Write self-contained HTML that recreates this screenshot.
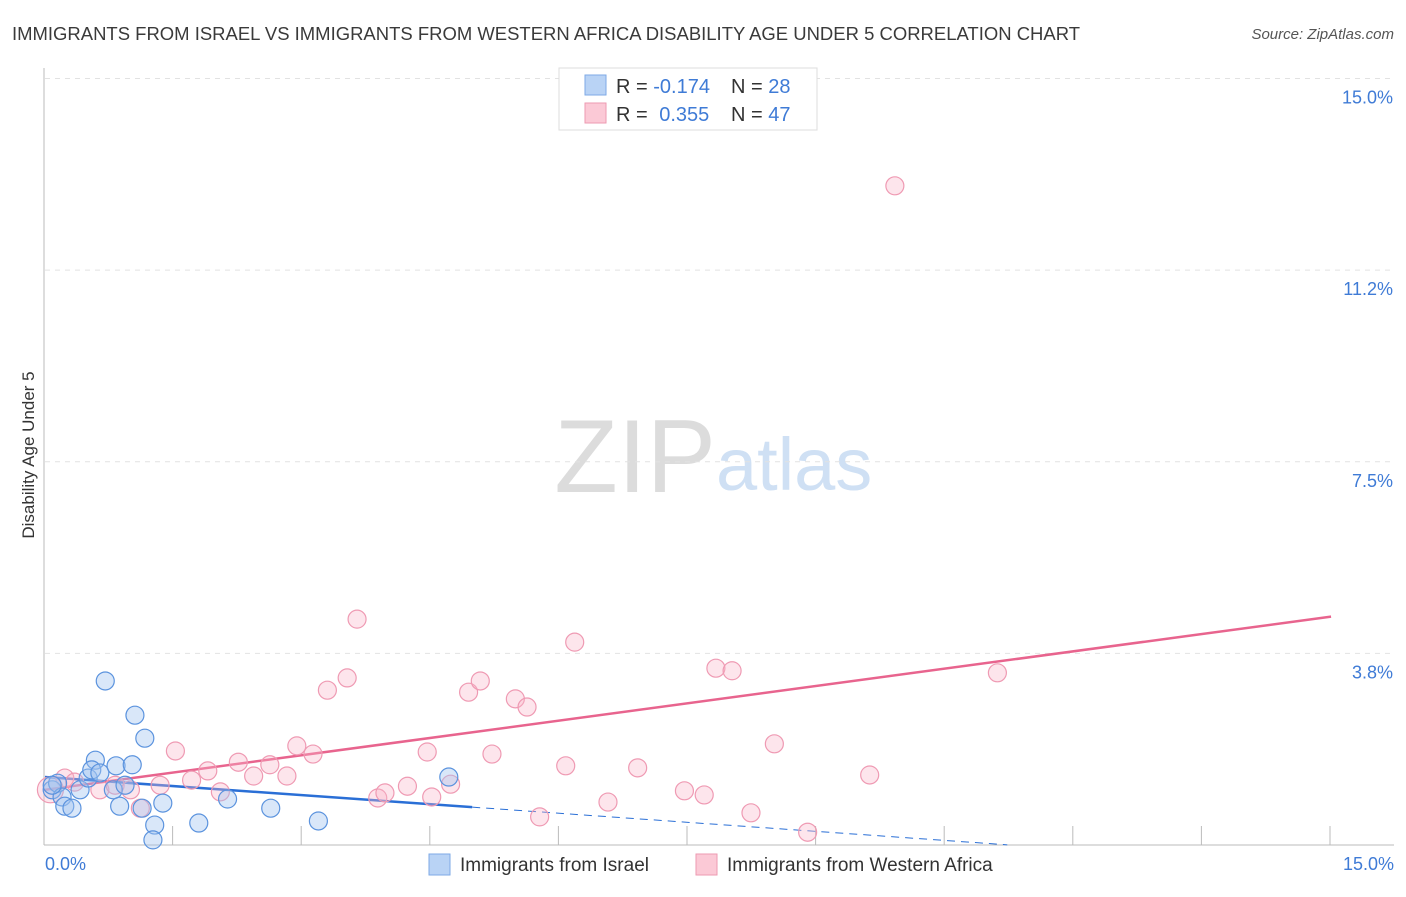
<!DOCTYPE html>
<html><head><meta charset="utf-8"><style>
body{margin:0;background:#fff;font-family:"Liberation Sans",sans-serif;}
svg text{font-family:"Liberation Sans",sans-serif;}
</style></head><body>
<svg id="chart" width="1406" height="892" xmlns="http://www.w3.org/2000/svg">
<text x="12" y="40" font-size="18" fill="#3a3a3a" textLength="1068" lengthAdjust="spacingAndGlyphs">IMMIGRANTS FROM ISRAEL VS IMMIGRANTS FROM WESTERN AFRICA DISABILITY AGE UNDER 5 CORRELATION CHART</text>
<text x="1394" y="39" font-size="15" font-style="italic" fill="#555" text-anchor="end">Source: ZipAtlas.com</text>
<text x="716" y="492" font-size="104" text-anchor="end" fill="#dcdcdc" font-family="Liberation Serif">ZIP</text>
<text x="716" y="490" font-size="74" fill="#cfe0f4">atlas</text>
<g id="grid"></g>
<g id="axes"></g>
<g id="trends"></g>
<g id="points"></g>
<text transform="translate(34,455) rotate(-90)" font-size="17" fill="#333" text-anchor="middle">Disability Age Under 5</text>
<text x="45" y="870" font-size="18" fill="#3f7bd6">0.0%</text>
<text x="1394" y="870" font-size="18" fill="#3f7bd6" text-anchor="end">15.0%</text>
<g>
<rect x="559" y="68" width="258" height="62" fill="#fff" stroke="#ddd"/>
<rect x="585" y="75" width="21" height="20" fill="#b9d3f5" stroke="#7ea9e6"/>
<rect x="585" y="103" width="21" height="20" fill="#fbc9d6" stroke="#ee9ab1"/>
<text x="616" y="93" font-size="20" fill="#333">R = <tspan fill="#3f7bd6">-0.174</tspan></text>
<text x="731" y="93" font-size="20" fill="#333">N = <tspan fill="#3f7bd6">28</tspan></text>
<text x="616" y="121" font-size="20" fill="#333">R = <tspan fill="#3f7bd6" dx="6">0.355</tspan></text>
<text x="731" y="121" font-size="20" fill="#333">N = <tspan fill="#3f7bd6">47</tspan></text>
</g>
<g>
<rect x="429" y="854" width="21" height="21" fill="#b9d3f5" stroke="#7ea9e6"/>
<text x="460" y="871" font-size="19" fill="#333">Immigrants from Israel</text></g>
<g>
<rect x="696" y="854" width="21" height="21" fill="#fbc9d6" stroke="#ee9ab1"/>
<text x="727" y="871" font-size="19" fill="#333">Immigrants from Western Africa</text></g>
</svg>
<script>
const yTicks=[3.75,7.5,11.25,15];
const yTickLabels=["3.8%","7.5%","11.2%","15.0%"];
const blueX=[0.08,0.14,0.19,0.22,0.30,0.39,0.48,0.56,0.52,0.61,0.67,0.76,0.79,0.83,0.89,0.97,1.00,1.08,1.11,1.22,1.20,1.31,1.71,2.03,2.51,3.04,4.49,0.08];
const blueY=[1.08,1.21,0.94,0.76,0.72,1.08,1.31,1.66,1.47,1.41,3.21,1.08,1.55,0.76,1.17,1.57,2.54,0.72,2.09,0.39,0.10,0.82,0.43,0.90,0.72,0.47,1.33,1.17];
const pinkX=[0.06,0.22,0.33,0.61,0.78,0.95,1.06,1.28,1.45,1.63,1.81,1.95,2.15,2.32,2.50,2.69,2.80,2.98,3.14,3.36,3.47,3.70,3.78,4.03,4.25,4.30,4.51,4.71,4.84,4.97,5.23,5.36,5.50,5.79,5.89,6.26,6.59,7.11,7.33,7.46,7.64,7.85,8.11,8.48,9.17,9.45,10.59];
const pinkY=[1.08,1.31,1.23,1.08,1.17,1.08,0.72,1.17,1.84,1.27,1.45,1.04,1.62,1.35,1.57,1.35,1.94,1.78,3.03,3.27,4.42,0.92,1.02,1.15,1.82,0.94,1.19,2.99,3.21,1.78,2.86,2.70,0.55,1.55,3.97,0.84,1.51,1.06,0.98,3.46,3.41,0.63,1.98,0.25,1.37,12.90,3.37];
const blueTrend=[1.33,-0.124];
const pinkTrend=[1.08,0.237];
const NS="http://www.w3.org/2000/svg";
const xs=v=>45+v*(1394-45)/15;
const ys=v=>845-v*(845-78.5)/15;
function mk(tag,attrs,parent){const e=document.createElementNS(NS,tag);for(const k in attrs)e.setAttribute(k,attrs[k]);document.getElementById(parent).appendChild(e);return e;}
yTicks.forEach((t,i)=>{
 const l=mk('line',{x1:45,x2:1394,y1:ys(t),y2:ys(t),stroke:'#e2e2e2','stroke-dasharray':'5,5'},'grid');
 
 
 const tx=mk('text',{x:1393,y:ys(t)+25,'font-size':18,fill:'#3f7bd6','text-anchor':'end'},'grid');
 tx.textContent=yTickLabels[i];
 
 
});
let ax=mk('line',{x1:44,x2:44,y1:68,y2:845,stroke:'#bbb'},'axes');


ax=mk('line',{x1:44,x2:1394,y1:845,y2:845,stroke:'#bbb'},'axes');


for(let i=1;i<=10;i++){const x=44+i*128.6;
 const t=mk('line',{x1:x,x2:x,y1:826,y2:845,stroke:'#bbb'},'axes');
 
 }
let tl=mk('line',{x1:xs(0),y1:ys(blueTrend[0]),x2:xs(4.75),y2:ys(blueTrend[0]+blueTrend[1]*4.75),stroke:'#2a6fd6','stroke-width':2.5},'trends');


tl=mk('line',{x1:xs(4.75),y1:ys(blueTrend[0]+blueTrend[1]*4.75),x2:xs(10.7),y2:ys(blueTrend[0]+blueTrend[1]*10.7),stroke:'#2a6fd6','stroke-width':1,'stroke-dasharray':'8,6'},'trends');


tl=mk('line',{x1:xs(0),y1:ys(pinkTrend[0]),x2:xs(14.3),y2:ys(pinkTrend[0]+pinkTrend[1]*14.3),stroke:'#e8648e','stroke-width':2.5},'trends');


pinkX.forEach((x,i)=>{const c=mk('circle',{cx:xs(x),cy:ys(pinkY[i]),r:i==0?13:9,fill:'rgba(248,180,200,0.35)',stroke:'#ef9ab3','stroke-width':1.2},'points');
 
 });
blueX.forEach((x,i)=>{const c=mk('circle',{cx:xs(x),cy:ys(blueY[i]),r:9,fill:'rgba(160,196,240,0.4)',stroke:'#5b93de','stroke-width':1.2},'points');
 
 });
</script>
</body></html>
